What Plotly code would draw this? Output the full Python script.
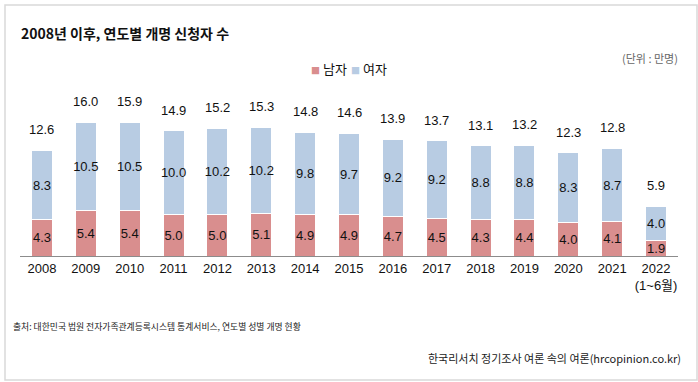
import plotly.graph_objects as go

years = ["2008", "2009", "2010", "2011", "2012", "2013", "2014", "2015",
         "2016", "2017", "2018", "2019", "2020", "2021", "2022<br>(1~6월)"]
male = [4.3, 5.4, 5.4, 5.0, 5.0, 5.1, 4.9, 4.9, 4.7, 4.5, 4.3, 4.4, 4.0, 4.1, 1.9]
female = [8.3, 10.5, 10.5, 10.0, 10.2, 10.2, 9.8, 9.7, 9.2, 9.2, 8.8, 8.8, 8.3, 8.7, 4.0]
total = [12.6, 16.0, 15.9, 14.9, 15.2, 15.3, 14.8, 14.6, 13.9, 13.7, 13.1, 13.2, 12.3, 12.8, 5.9]
series_names = ["남자", "여자"]
series_colors = ["#D98E8E", "#B8CCE3"]

FONT = "Liberation Sans, Arial, Noto Sans CJK KR, sans-serif"
KFONT = "Noto Sans CJK KR, sans-serif"
W, H = 698, 382
L, R, T, B = 20, 20, 88, 126
pw, ph = W - L - R, H - T - B

def px(x):
    return (x - L) / pw

def py(y):
    return (H - B - y) / ph

fig = go.Figure()
for name, vals, col in zip(series_names, [male, female], series_colors):
    fig.add_trace(go.Bar(
        x=list(range(len(years))), y=vals, name=name,
        marker=dict(color=col, line=dict(color="white", width=1)),
        text=[f"{v:.1f}" for v in vals], textposition="inside", insidetextanchor="middle",
        textangle=0, constraintext="none",
        textfont=dict(color="#111111", size=13, family=FONT),
        width=0.48, hoverinfo="skip"))

annotations = []
for i, tv in enumerate(total):
    annotations.append(dict(x=i, y=tv, xref="x", yref="y", text=f"{tv:.1f}", showarrow=False,
                            yanchor="bottom", yshift=11,
                            font=dict(size=13, color="#111111", family=FONT)))

# legend drawn as annotations
leg_x = [309, 349]
for lx, name, col in zip(leg_x, series_names, series_colors):
    annotations.append(dict(x=px(lx), y=py(68), xref="paper", yref="paper", xanchor="left",
                            yanchor="middle",
                            text=f"<span style='color:{col};font-size:9px'>■</span> {name}",
                            showarrow=False, font=dict(size=13, color="#111111", family=KFONT)))

annotations += [
    dict(x=px(19), y=py(33), xref="paper", yref="paper", xanchor="left", yanchor="middle",
         text="<b>2008년 이후, 연도별 개명 신청자 수</b>", showarrow=False,
         font=dict(size=14, color="#111111", family=KFONT)),
    dict(x=px(680), y=py(58), xref="paper", yref="paper", xanchor="right", yanchor="middle",
         text="(단위 : 만명)", showarrow=False, font=dict(size=11, color="#666666", family=KFONT)),
    dict(x=px(11), y=py(326), xref="paper", yref="paper", xanchor="left", yanchor="middle",
         text="출처: 대한민국 법원 전자가족관계등록시스템 통계서비스, 연도별 성별 개명 현황", showarrow=False,
         font=dict(size=8.8, color="#222222", family=KFONT)),
    dict(x=px(683), y=py(358), xref="paper", yref="paper", xanchor="right", yanchor="middle",
         text="한국리서치 정기조사 여론 속의 여론(hrcopinion.co.kr)", showarrow=False,
         font=dict(size=11, color="#222222", family=KFONT)),
]

fig.update_layout(
    width=W, height=H, barmode="stack",
    margin=dict(l=L, r=R, t=T, b=B, pad=0),
    paper_bgcolor="white", plot_bgcolor="white",
    font=dict(family=FONT, color="#111111"),
    showlegend=False,
    xaxis=dict(range=[-0.5, len(years) - 0.5], tickmode="array",
               tickvals=list(range(len(years))), ticktext=years,
               showline=True, linecolor="#8c8c8c", linewidth=1, zeroline=False,
               ticks="", tickfont=dict(size=13, color="#111111", family=FONT), showgrid=False,
               fixedrange=True, automargin=False),
    yaxis=dict(range=[0, 20], visible=False, showgrid=False, fixedrange=True),
    annotations=annotations,
    shapes=[dict(type="rect", xref="paper", yref="paper", x0=px(5), x1=px(697), y0=py(380), y1=py(5),
                 line=dict(color="#d9d9d9", width=1.5), fillcolor="rgba(0,0,0,0)", layer="below")],
)

fig.write_html("out.html", config={"displayModeBar": False},
               post_script="document.body.style.margin='0';document.body.style.padding='0';")
